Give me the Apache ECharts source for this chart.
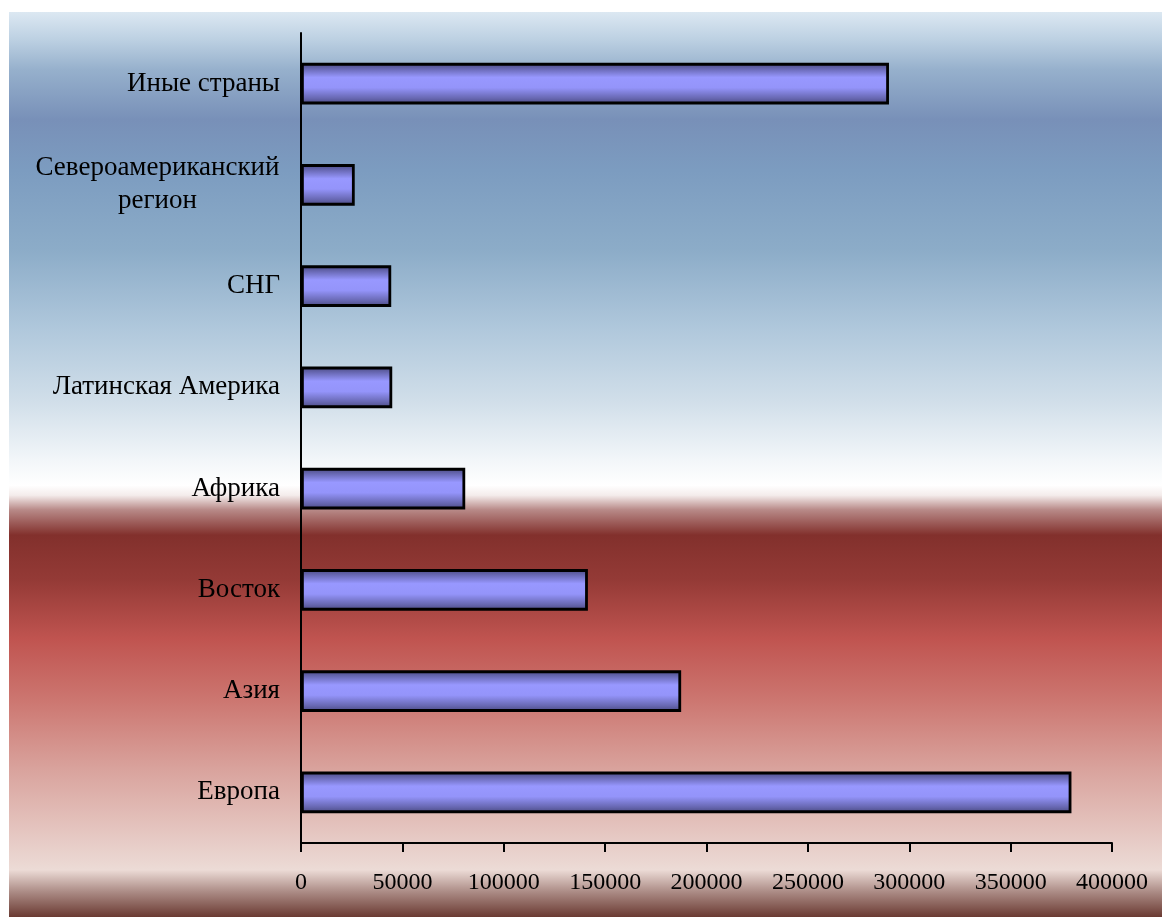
<!DOCTYPE html>
<html>
<head>
<meta charset="utf-8">
<script src="https://cdn.jsdelivr.net/npm/echarts@6/dist/echarts.min.js"></script>
<style>
html,body{margin:0;padding:0;background:#fff;}
#c{width:1162px;height:917px;}
</style>
</head>
<body>
<div id="c"></div>
<script>
var categories = ['Европа','Азия','Восток','Африка','Латинская Америка','СНГ','Североамериканский регион','Иные страны'];
var values = [380000, 187500, 141500, 81000, 45000, 44500, 26500, 290000];
var xTicks = [0, 50000, 100000, 150000, 200000, 250000, 300000, 350000, 400000];

var FONT = 'Liberation Serif';
var FS = 27;
var FSX = 24;
var mctx = document.createElement('canvas').getContext('2d');
mctx.font = FS + 'px "' + FONT + '"';
var wideW = Math.ceil(mctx.measureText('Североамериканский').width);

var chart = echarts.init(document.getElementById('c'), null, {renderer:'canvas'});
var option = {
  backgroundColor: '#ffffff',
  animation: false,
  graphic: [{
    type: 'rect', left: 9, top: 12, z: -10, silent: true,
    shape: {width: 1153, height: 905},
    style: {
      fill: new echarts.graphic.LinearGradient(0,0,0,1,[
        {offset:0, color:'#dce8f2'},
        {offset:0.031, color:'#bcd0e2'},
        {offset:0.064, color:'#96b0cc'},
        {offset:0.119, color:'#7890b8'},
        {offset:0.175, color:'#7c9cc0'},
        {offset:0.263, color:'#8cacc8'},
        {offset:0.351, color:'#b0c8dc'},
        {offset:0.429, color:'#d0dee9'},
        {offset:0.495, color:'#f2f6f9'},
        {offset:0.523, color:'#ffffff'},
        {offset:0.534, color:'#f4eceb'},
        {offset:0.550, color:'#b88a88'},
        {offset:0.578, color:'#82302c'},
        {offset:0.627, color:'#943a36'},
        {offset:0.693, color:'#c05450'},
        {offset:0.760, color:'#cc7670'},
        {offset:0.837, color:'#d9a39d'},
        {offset:0.948, color:'#ecdbd6'},
        {offset:0.972, color:'#ac8c86'},
        {offset:1, color:'#6a3a32'}
      ])
    }
  }],
  grid: {left: 301, right: 50, top: 33, bottom: 74, containLabel: false},
  xAxis: {
    type: 'value', min: 0, max: 400000, interval: 50000,
    axisLine: {show: true, lineStyle: {color: '#000', width: 2}},
    axisTick: {show: true, length: 9, lineStyle: {color: '#000', width: 2}},
    splitLine: {show: false},
    axisLabel: {
      color: '#000', fontFamily: FONT, fontSize: FSX, margin: 28,
      formatter: function (v) { return xTicks.indexOf(v) >= 0 ? String(v) : ''; }
    }
  },
  yAxis: {
    type: 'category', data: categories,
    axisLine: {show: true, lineStyle: {color: '#000', width: 2}},
    axisTick: {show: false},
    splitLine: {show: false},
    axisLabel: {
      color: '#000', fontFamily: FONT, fontSize: FS, margin: 21, lineHeight: 33,
      formatter: function (v) {
        if (v === 'Североамериканский регион') {
          return '{a|Североамериканский}\n{b|регион}';
        }
        return v;
      },
      rich: {
        a: {color:'#000', fontFamily: FONT, fontSize: FS, lineHeight: 33, width: wideW, align: 'center'},
        b: {color:'#000', fontFamily: FONT, fontSize: FS, lineHeight: 33, width: wideW, align: 'center'}
      }
    }
  },
  series: [{
    type: 'bar',
    data: values,
    barCategoryGap: '59%',
    itemStyle: {
      borderColor: '#000', borderWidth: 2.8,
      color: new echarts.graphic.LinearGradient(0,0,0,1,[
        {offset:0, color:'#48487e'},
        {offset:0.15, color:'#6a6ab6'},
        {offset:0.35, color:'#9898ff'},
        {offset:0.6, color:'#9494fa'},
        {offset:0.85, color:'#6868b2'},
        {offset:1, color:'#48487e'}
      ])
    }
  }]
};
chart.setOption(option);
</script>
</body>
</html>
